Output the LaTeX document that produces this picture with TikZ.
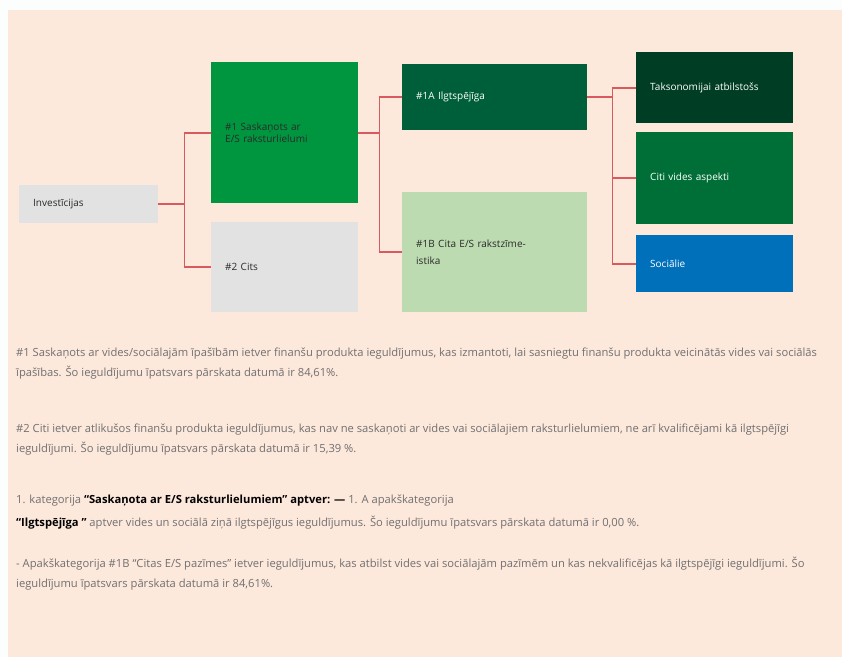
\documentclass[tikz,border=0pt]{standalone}
\usepackage{fontspec}
\setmainfont{Open Sans}
\usepackage{xcolor}
\definecolor{espeach}{HTML}{FDE8DC}
\definecolor{estop}{HTML}{FBFEFD}
\definecolor{esgray}{HTML}{E2E2E2}
\definecolor{esgreen}{HTML}{00963F}
\definecolor{esdark}{HTML}{005F3B}
\definecolor{eslight}{HTML}{BDDBB1}
\definecolor{estaxo}{HTML}{003D25}
\definecolor{esenv}{HTML}{006F37}
\definecolor{esblue}{HTML}{0070BA}
\definecolor{esred}{HTML}{D95A5E}
\definecolor{esnotegray}{HTML}{707070}
\definecolor{esink}{HTML}{2A2A2A}
\tikzset{
  esbox/.style={rectangle, anchor=north west, inner xsep=14pt, inner ysep=0pt,
    align=left, font=\fontsize{10}{12.6}\selectfont},
  eslink/.style={line width=1.6pt, draw=esred},
  esnote/.style={anchor=base west, inner sep=0pt, text=esnotegray,
    font=\fontsize{11.2}{14}\selectfont},
}
\begin{document}
\begin{tikzpicture}[x=1pt, y=-1pt]
\useasboundingbox (0,0) rectangle (842,657);
\fill[estop] (0,0) rectangle (842,657);
\fill[espeach] (8,10) rectangle (842,657);

% boxes
\node[esbox, fill=esgray, text=esink, text width=111pt, minimum height=38pt] (inv) at (19,185) {Investīcijas};
\node[esbox, fill=esgreen, text=esink, text width=119pt, minimum height=141pt] (g1) at (211,62) {\#1 Saskaņots ar\\E/S raksturlielumi};
\node[esbox, fill=esgray, text=esink, text width=119pt, minimum height=90pt] (g2) at (211,222) {\#2 Cits};
\node[esbox, fill=esdark, text=white, text width=157pt, minimum height=66pt] (sust) at (402,64) {\#1A Ilgtspējīga};
\node[esbox, fill=eslight, text=esink, text width=157pt, minimum height=120pt] (other) at (402,192) {\#1B Cita E/S rakstzīme-\\[4pt]istika};
\node[esbox, fill=estaxo, text=white, text width=129pt, minimum height=71pt] (taxo) at (636,52) {Taksonomijai atbilstošs};
\node[esbox, fill=esenv, text=white, text width=129pt, minimum height=92pt] (env) at (636,132) {Citi vides aspekti};
\node[esbox, fill=esblue, text=white, text width=129pt, minimum height=57pt] (soc) at (636,235) {Sociālie};

% connectors
\draw[eslink] (inv.east) -- ++(26,0) |- (g1.west);
\draw[eslink] (inv.east) ++(26,0) |- (g2.west);
\draw[eslink] (g1.east) -- ++(21,0) |- (sust.west);
\draw[eslink] (g1.east) ++(21,0) |- (other.west);
\draw[eslink] (sust.east) -- ++(25,0) |- (taxo.west);
\draw[eslink] (sust.east) ++(25,0) |- (env.west);
\draw[eslink] (sust.east) ++(25,0) |- (soc.west);

% notes
\node[esnote] (n1) at (16,356) {\#1 Saskaņots ar vides/sociālajām īpašībām ietver finanšu produkta ieguldījumus, kas izmantoti, lai sasniegtu finanšu produkta veicinātās vides vai sociālās};
\node[esnote] (n2) at (16,376) {īpašības. Šo ieguldījumu īpatsvars pārskata datumā ir 84,61\%.};
\node[esnote] (n3) at (16,432) {\#2 Citi ietver atlikušos finanšu produkta ieguldījumus, kas nav ne saskaņoti ar vides vai sociālajiem raksturlielumiem, ne arī kvalificējami kā ilgtspējīgi};
\node[esnote] (n4) at (16,452) {ieguldījumi. Šo ieguldījumu īpatsvars pārskata datumā ir 15,39 \%.};
\node[esnote] (n5) at (16,503) {1. kategorija {\color{black}\bfseries “Saskaņota ar E/S raksturlielumiem” aptver: —} 1. A apakškategorija};
\node[esnote] (n6) at (16,526) {{\color{black}\bfseries “Ilgtspējīga ”} aptver vides un sociālā ziņā ilgtspējīgus ieguldījumus. Šo ieguldījumu īpatsvars pārskata datumā ir 0,00 \%.};
\node[esnote] (n7) at (16,567) {- Apakškategorija \#1B “Citas E/S pazīmes” ietver ieguldījumus, kas atbilst vides vai sociālajām pazīmēm un kas nekvalificējas kā ilgtspējīgi ieguldījumi. Šo};
\node[esnote] (n8) at (16,587) {ieguldījumu īpatsvars pārskata datumā ir 84,61\%.};
\end{tikzpicture}
\end{document}
